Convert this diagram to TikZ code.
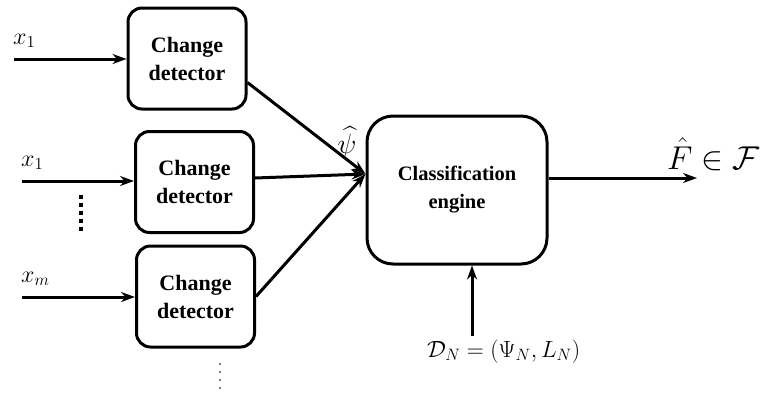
\RequirePackage{fix-cm}
\documentclass[tikz,border=0pt]{standalone}
\usepackage{amsmath}
\usepackage{fontspec}
\setmainfont{Liberation Serif}
\usetikzlibrary{arrows.meta,calc}
\begin{document}
\begin{tikzpicture}[x=1pt,y=-1pt,
  cd/.style={draw,line width=3pt,rounded corners=14pt,minimum width=118pt,minimum height=101pt,
    align=center,font=\fontsize{22}{28}\selectfont\bfseries},
  ce/.style={draw,line width=3pt,rounded corners=26pt,minimum width=180pt,minimum height=148pt,
    align=center,font=\fontsize{20.5}{28}\selectfont\bfseries},
  conn/.style={line width=3pt,-{Stealth[length=14pt,width=10pt]}},
  lab/.style={font=\fontsize{24}{24}\selectfont}]
\useasboundingbox (0,0) rectangle (770,397);
\node[cd] (b1) at (187,58.5) {Change\\detector};
\node[cd] (b2) at (194.5,182) {Change\\detector};
\node[cd] (b3) at (195.5,296.5) {Change\\detector};
\node[ce] (c) at (457,190) {Classification\\engine};
\coordinate (m) at (c.west |- 0,174);
% inputs
\coordinate (i1) at (14,59);
\coordinate (i2) at (22,181);
\coordinate (i3) at (22,297);
\draw[conn] (i1) -- (b1.west |- i1);
\draw[conn] (i2) -- (b2.west |- i2);
\draw[conn] (i3) -- (b3.west |- i3);
\node[lab,anchor=base west,inner sep=0pt] (l1) at (13,44) {$x_1$};
\node[lab,anchor=base west,inner sep=0pt] (l2) at (21,166) {$x_1$};
\node[lab,anchor=base west,inner sep=0pt] (l3) at (21,282) {$x_m$};
% vertical dots
\foreach \yy in {195,203,211,219,227} \fill (79,\yy) rectangle (83,\yy+4);
% to classification
\draw[conn] ([yshift=-24pt]b1.east) -- (m);
\draw[conn] (b2.east |- 0,178) -- (m);
\draw[conn] (b3.east) -- (m);
\node[font=\fontsize{28}{28}\selectfont,anchor=base] (psi) at (347,153) {$\widehat{\psi}$};
% output
\coordinate (o) at (697,178);
\draw[conn] (c.east |- o) -- (o);
\node[font=\fontsize{33}{33}\selectfont,anchor=base west,inner sep=0pt] (F) at (667,169) {$\hat{F}\in\mathcal{F}$};
% dataset input
\node[font=\fontsize{23.5}{23.5}\selectfont,anchor=base west,inner sep=0pt] (d) at (427,357) {$\mathcal{D}_N=(\Psi_N,L_N)$};
\coordinate (ds) at (472,336);
\draw[conn] (ds) -- (c.south -| ds);
% small dots
\foreach \yy in {364,372,380,388} \fill (220,\yy) circle (0.8pt);
\end{tikzpicture}
\end{document}
